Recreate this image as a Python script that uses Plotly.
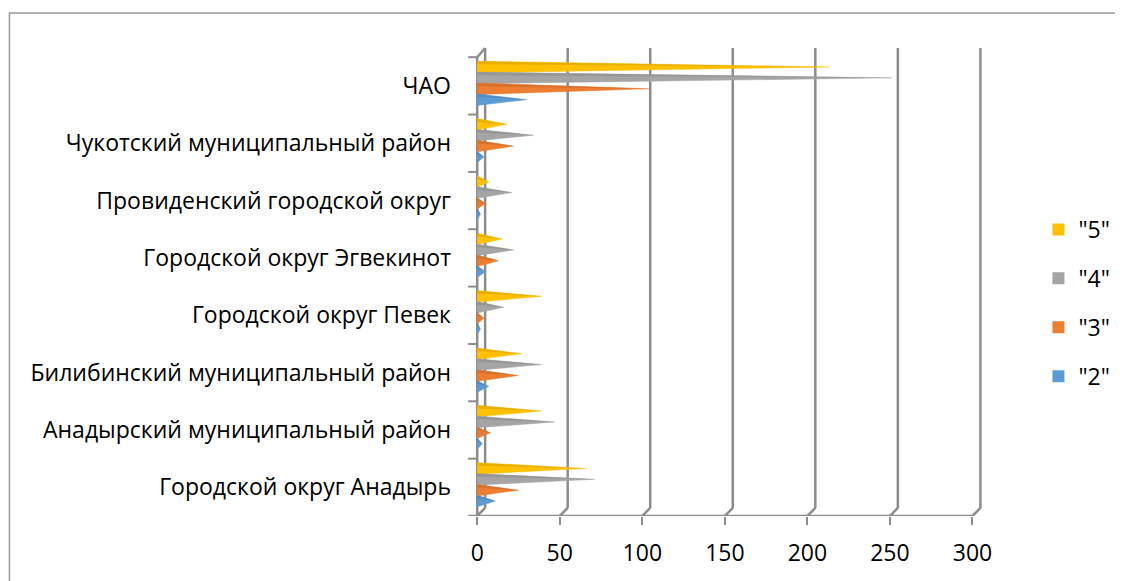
import plotly.graph_objects as go

categories = [
    "Городской округ Анадырь",
    "Анадырский муниципальный район",
    "Билибинский муниципальный район",
    "Городской округ Певек",
    "Городской округ Эгвекинот",
    "Провиденский городской округ",
    "Чукотский муниципальный район",
    "ЧАО",
]
series_names = ['"5"', '"4"', '"3"', '"2"']
v5 = [66, 39, 27, 39, 15, 7, 18, 213]
v4 = [71, 47, 39, 16, 22, 21, 34, 251]
v3 = [25, 8, 25, 4, 13, 5, 22, 104]
v2 = [11, 3, 7, 2, 5, 2, 4, 30]
colors = ["#FFC000", "#A5A5A5", "#ED7D31", "#5B9BD5"]
dark_colors = ["#D9A200", "#8C8C8C", "#C9692A", "#4D84B5"]
x_ticks = [0, 50, 100, 150, 200, 250, 300]

values = [v5, v4, v3, v2]
offsets = [0.33, 0.14, -0.05, -0.24]
half = 0.10

fig = go.Figure()

# pyramids
for vals, col, dcol, off, name in zip(values, colors, dark_colors, offsets, series_names):
    xs, ys = [], []
    xt, yt = [], []
    for i, v in enumerate(vals):
        c = i + off
        xs += [0, v, 0, 0, None]
        ys += [c + half, c, c - half, c + half, None]
        xt += [0, v, 0, 0, None]
        yt += [c + half, c, c + half * 0.45, c + half, None]
    fig.add_trace(go.Scatter(x=xs, y=ys, mode="lines", fill="toself",
                             fillcolor=col, line=dict(color=col, width=0.5),
                             showlegend=False, hoverinfo="skip"))
    fig.add_trace(go.Scatter(x=xt, y=yt, mode="lines", fill="toself",
                             fillcolor=dcol, line=dict(color=dcol, width=0),
                             opacity=0.6, showlegend=False, hoverinfo="skip"))

# legend entries
for col, name in zip(colors, series_names):
    fig.add_trace(go.Scatter(x=[None], y=[None], mode="markers", name=name,
                             marker=dict(color=col, symbol="square", size=15),
                             legendgroup=name))

# margins (compensating the 8px page body offset)
L, R, T, B = 456, 141.5, 32, 73
W, H = 1123, 581
pw = W - L - R
ph = H - T - B

grid_col = "#8C8C8C"
depth_x = 4.8
shapes = []
for t in x_ticks:
    shapes.append(dict(type="line", xref="x", yref="y", x0=t + depth_x, x1=t + depth_x,
                       y0=-0.36, y1=7.66, line=dict(color=grid_col, width=2.5), layer="below"))
    shapes.append(dict(type="line", xref="x", yref="y", x0=t, x1=t + depth_x,
                       y0=-0.5, y1=-0.36, line=dict(color=grid_col, width=2.5), layer="below"))
shapes.append(dict(type="line", xref="x", yref="y", x0=0, x1=0, y0=-0.5, y1=7.5,
                   line=dict(color=grid_col, width=2.5), layer="below"))
shapes.append(dict(type="line", xref="x", yref="y", x0=0, x1=depth_x, y0=7.5, y1=7.66,
                   line=dict(color=grid_col, width=2.5), layer="below"))
for k in range(len(categories) + 1):
    yb = k - 0.5
    shapes.append(dict(type="line", xref="x", yref="y", x0=-5.5, x1=0, y0=yb, y1=yb,
                       line=dict(color=grid_col, width=2), layer="below"))
shapes.append(dict(type="line", xref="x", yref="y", x0=-5.5, x1=300, y0=-0.5, y1=-0.5,
                   line=dict(color=grid_col, width=2.5), layer="below"))
# outer chart border (left and top visible)
bx0 = (1 - L) / pw
by1 = (H - 5 - B) / ph
shapes.append(dict(type="rect", xref="paper", yref="paper", x0=bx0, x1=(W + 20 - L) / pw,
                   y0=-(B + 20) / ph, y1=by1, line=dict(color="#999999", width=1.5)))

fig.update_layout(
    width=W, height=H,
    margin=dict(l=L, r=R, t=T, b=B, autoexpand=False),
    paper_bgcolor="white", plot_bgcolor="white",
    font=dict(family="Open Sans", size=23, color="#000000"),
    shapes=shapes,
    showlegend=True,
    legend=dict(x=(1031 - L) / pw, y=(H - 295 - B) / ph, xanchor="left", yanchor="middle",
                font=dict(size=23), itemsizing="constant", tracegroupgap=16,
                itemwidth=30, bgcolor="rgba(0,0,0,0)"),
    xaxis=dict(range=[-8, 310], tickvals=x_ticks, ticktext=[str(t) for t in x_ticks],
               showgrid=False, zeroline=False, showline=False,
               ticks="outside", ticklen=8, tickwidth=2, tickcolor=grid_col,
               tickfont=dict(size=23), ticklabelstandoff=8),
    yaxis=dict(range=[-0.5, 7.8], tickvals=list(range(len(categories))), ticktext=categories,
               showgrid=False, zeroline=False, showline=False, ticks="",
               ticklabelstandoff=12, tickfont=dict(size=23)),
)

fig.write_html("out.html")
